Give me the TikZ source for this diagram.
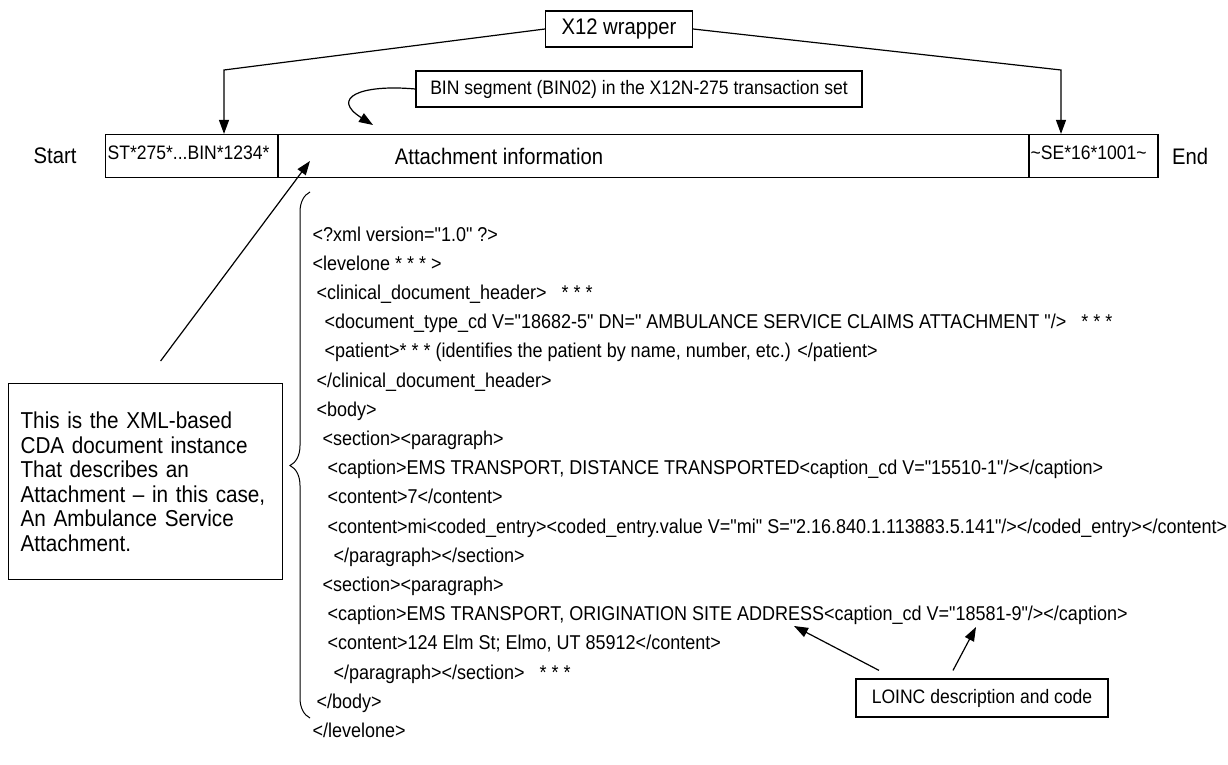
\documentclass[tikz,border=0pt]{standalone}
\usepackage{fontspec}
\setmainfont{Liberation Sans}[FakeStretch=0.9,Ligatures=TeXOff]
\usetikzlibrary{arrows.meta,decorations.pathreplacing}

\begin{document}
\begin{tikzpicture}[x=1pt,y=-1pt,line width=1.2pt,
  box/.style={draw,inner sep=0pt},
  arr/.style={-{Triangle[length=14pt,width=10pt]}},
  code/.style={anchor=west,inner sep=0pt,font=\fontsize{20}{24}\selectfont,text height=14pt,text depth=4pt},
  big/.style={font=\fontsize{22.5}{27}\selectfont},
  small/.style={font=\fontsize{19.5}{24}\selectfont}]

\useasboundingbox (0,0) rectangle (1228,765);

\node[box,big,minimum width=147pt,minimum height=36pt] (x12) at (619,29) {X12 wrapper};
\node[box,small,minimum width=446pt,minimum height=36pt] (bin) at (639,89) {BIN segment (BIN02) in the X12N-275 transaction set};

\node[box,minimum width=172.5pt,minimum height=43pt] (st) at (191.75,156) {};
\node[box,minimum width=751pt,minimum height=43pt] (att) at (653.5,156) {};
\node[box,minimum width=129pt,minimum height=43pt] (se) at (1093.5,156) {};
\node[small,anchor=west,inner sep=0pt] (sttext) at (107,153) {ST*275*...BIN*1234*};
\node[small,anchor=west,inner sep=0pt] (setext) at (1030,153) {\textasciitilde SE*16*1001\textasciitilde};
\node[big] (atttext) at (499,156) {Attachment information};
\node[big] (start) at (55,156) {Start};
\node[big] (end) at (1190,156) {End};

\coordinate (xl) at (224,70);
\coordinate (xr) at (1061,70);
\draw[arr] (x12.west) -- (xl) -- (xl |- st.north);
\draw[arr] (x12.east) -- (xr) -- (xr |- se.north);

\coordinate (bintip) at (373,125);
\draw[arr] (bin.west) .. controls (360,84) and (330,98) .. (bintip);

\node[box,anchor=north west,text width=250pt,minimum height=196pt,inner xsep=12pt,align=left,font=\fontsize{23}{24.5}\selectfont] (note) at (8,383) {This is the XML-based\\CDA document instance\\That describes an\\Attachment – in this case,\\An Ambulance Service\\Attachment.};
\coordinate (ntail) at ([shift={(15,-22)}]note.north);
\coordinate (ntip) at (310,161);
\draw[arr] (ntail) -- (ntip);

\draw[line width=1pt,decorate,decoration={brace,amplitude=20pt,aspect=0.48}] (310,718) -- (310,192);

\node[code] (l1) at (312,236) {<?xml version="1.0" ?>};
\node[code] (l2) at (312,265.2) {<levelone * * * >};
\node[code] (l3) at (316,294.4) {<clinical\_document\_header>\ \ \ * * *};
\node[code] (l4) at (324,323.6) {<document\_type\_cd V="18682-5" DN=" AMBULANCE SERVICE CLAIMS ATTACHMENT "/>\ \ \ * * *};
\node[code] (l5) at (324,352.8) {<patient>* * * (identifies the patient by name, number, etc.) </patient>};
\node[code] (l6) at (316,382) {</clinical\_document\_header>};
\node[code] (l7) at (316,411.2) {<body>};
\node[code] (l8) at (322,440.4) {<section><paragraph>};
\node[code] (l9) at (327,469.6) {<caption>EMS TRANSPORT, DISTANCE TRANSPORTED<caption\_cd V="15510-1"/></caption>};
\node[code] (l10) at (327,498.8) {<content>7</content>};
\node[code] (l11) at (327,528) {<content>mi<coded\_entry><coded\_entry.value V="mi" S="2.16.840.1.113883.5.141"/></coded\_entry></content>};
\node[code] (l12) at (333,557.2) {</paragraph></section>};
\node[code] (l13) at (322,586.4) {<section><paragraph>};
\node[code] (l14) at (327,615.6) {<caption>EMS TRANSPORT, ORIGINATION SITE ADDRESS<caption\_cd V="18581-9"/></caption>};
\node[code] (l15) at (327,644.8) {<content>124 Elm St; Elmo, UT 85912</content>};
\node[code] (l16) at (333,674) {</paragraph></section>\ \ \ * * *};
\node[code] (l17) at (316,703.2) {</body>};
\node[code] (l18) at (312,732.4) {</levelone>};

\node[box,small,minimum width=252pt,minimum height=38pt] (loinc) at (982,698) {LOINC description and code};
\coordinate (lt1) at (794,626);
\coordinate (lt2) at (976,627);
\draw[arr] ([xshift=-103pt,yshift=8pt]loinc.north) -- (lt1);
\draw[arr] ([xshift=-29pt,yshift=8pt]loinc.north) -- (lt2);

\end{tikzpicture}
\end{document}
